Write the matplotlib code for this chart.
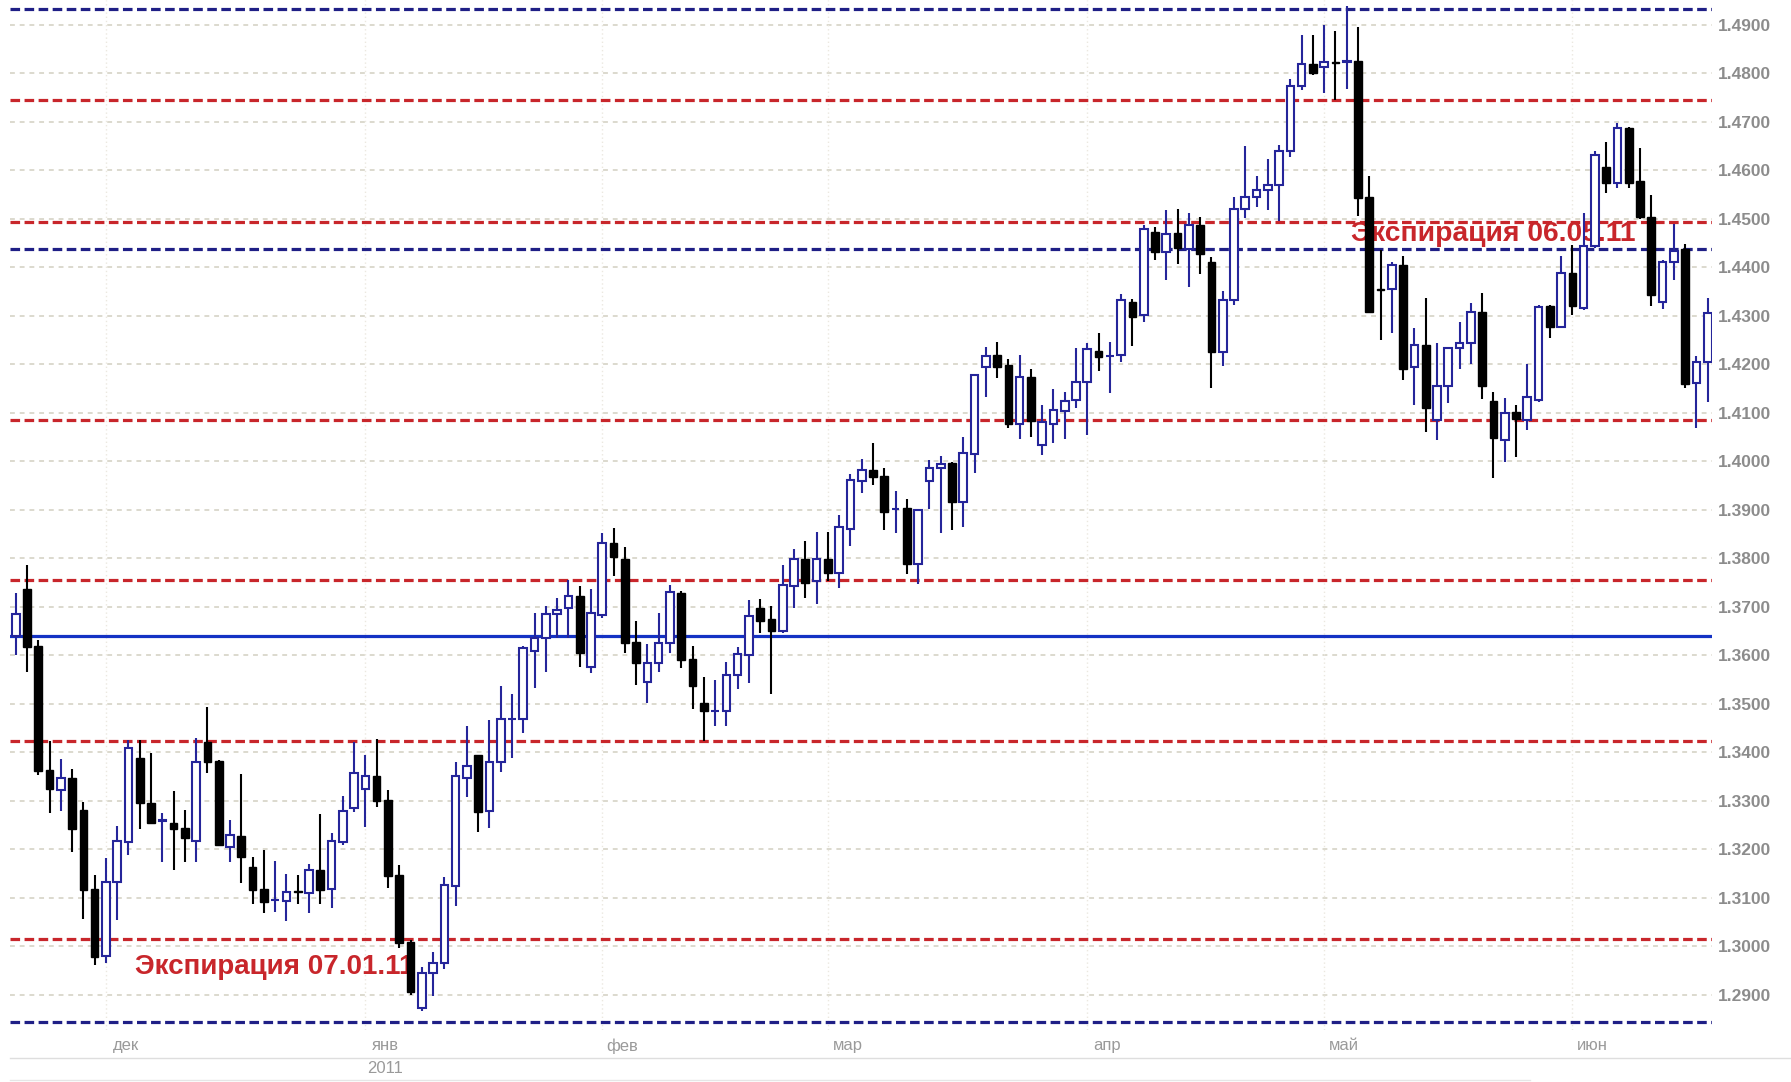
"""plot.py — EUR/USD daily candles, Nov 2010 - Jun 2011, with expiry levels"""
import matplotlib
matplotlib.use("Agg")
import matplotlib.pyplot as plt
from matplotlib.lines import Line2D
import numpy as np

# daily candles
opens = [1.3640, 1.3736, 1.3619, 1.3363, 1.3322, 1.3347, 1.3281, 1.3118, 1.2980, 1.3133,
         1.3215, 1.3389, 1.3296, 1.3259, 1.3255, 1.3243, 1.3217, 1.3420, 1.3382, 1.3205,
         1.3227, 1.3164, 1.3118, 1.3095, 1.3093, 1.3113, 1.3110, 1.3158, 1.3117, 1.3215,
         1.3284, 1.3325, 1.3351, 1.3301, 1.3147, 1.3009, 1.2872, 1.2944, 1.2965, 1.3124,
         1.3346, 1.3394, 1.3279, 1.3380, 1.3468, 1.3468, 1.3609, 1.3635, 1.3684, 1.3697,
         1.3723, 1.3576, 1.3683, 1.3832, 1.3798, 1.3628, 1.3545, 1.3583, 1.3626, 1.3728,
         1.3593, 1.3502, 1.3484, 1.3484, 1.3559, 1.3601, 1.3698, 1.3674, 1.3650, 1.3743,
         1.3798, 1.3752, 1.3798, 1.3770, 1.3860, 1.3960, 1.3982, 1.3969, 1.3901, 1.3903,
         1.3788, 1.3960, 1.3985, 1.3996, 1.3915, 1.4015, 1.4195, 1.4219, 1.4199, 1.4077,
         1.4174, 1.4033, 1.4077, 1.4104, 1.4126, 1.4164, 1.4227, 1.4216, 1.4219, 1.4329,
         1.4302, 1.4473, 1.4432, 1.4470, 1.4437, 1.4487, 1.4411, 1.4226, 1.4332, 1.4519,
         1.4545, 1.4560, 1.4569, 1.4640, 1.4774, 1.4819, 1.4812, 1.4823, 1.4824, 1.4825,
         1.4545, 1.4355, 1.4356, 1.4404, 1.4195, 1.4240, 1.4084, 1.4154, 1.4233, 1.4243,
         1.4307, 1.4124, 1.4044, 1.4102, 1.4084, 1.4126, 1.4320, 1.4277, 1.4389, 1.4315,
         1.4444, 1.4607, 1.4573, 1.4686, 1.4578, 1.4504, 1.4329, 1.4411, 1.4437, 1.4161,
         1.4205]
highs = [1.3728, 1.3786, 1.3631, 1.3424, 1.3385, 1.3365, 1.3298, 1.3147, 1.3181, 1.3248,
         1.3425, 1.3425, 1.3398, 1.3275, 1.3319, 1.3281, 1.3430, 1.3494, 1.3384, 1.3260,
         1.3356, 1.3184, 1.3198, 1.3176, 1.3148, 1.3147, 1.3169, 1.3273, 1.3234, 1.3310,
         1.3422, 1.3394, 1.3427, 1.3322, 1.3167, 1.3013, 1.2958, 1.2989, 1.3143, 1.3380,
         1.3453, 1.3394, 1.3466, 1.3536, 1.3520, 1.3619, 1.3686, 1.3701, 1.3717, 1.3755,
         1.3743, 1.3736, 1.3851, 1.3862, 1.3824, 1.3671, 1.3623, 1.3686, 1.3745, 1.3733,
         1.3619, 1.3556, 1.3549, 1.3585, 1.3616, 1.3714, 1.3715, 1.3701, 1.3786, 1.3818,
         1.3836, 1.3853, 1.3853, 1.3889, 1.3974, 1.4004, 1.4037, 1.3985, 1.3939, 1.3923,
         1.3901, 1.4002, 1.4011, 1.3999, 1.4049, 1.4180, 1.4236, 1.4245, 1.4210, 1.4219,
         1.4191, 1.4116, 1.4148, 1.4143, 1.4233, 1.4243, 1.4265, 1.4245, 1.4345, 1.4334,
         1.4487, 1.4482, 1.4518, 1.4519, 1.4511, 1.4504, 1.4420, 1.4350, 1.4545, 1.4650,
         1.4587, 1.4624, 1.4652, 1.4789, 1.4879, 1.4879, 1.4899, 1.4888, 1.4939, 1.4896,
         1.4587, 1.4435, 1.4411, 1.4423, 1.4274, 1.4336, 1.4243, 1.4236, 1.4286, 1.4326,
         1.4346, 1.4143, 1.4130, 1.4116, 1.4200, 1.4322, 1.4322, 1.4423, 1.4446, 1.4511,
         1.4640, 1.4659, 1.4697, 1.4690, 1.4645, 1.4549, 1.4415, 1.4489, 1.4448, 1.4217,
         1.4336]
lows = [1.3600, 1.3566, 1.3353, 1.3274, 1.3279, 1.3195, 1.3057, 1.2961, 1.2965, 1.3054,
        1.3188, 1.3241, 1.3253, 1.3174, 1.3158, 1.3174, 1.3174, 1.3358, 1.3207, 1.3174,
        1.3130, 1.3088, 1.3068, 1.3071, 1.3051, 1.3088, 1.3068, 1.3088, 1.3078, 1.3209,
        1.3277, 1.3245, 1.3288, 1.3121, 1.2996, 1.2899, 1.2867, 1.2897, 1.2954, 1.3082,
        1.3308, 1.3236, 1.3243, 1.3360, 1.3387, 1.3440, 1.3532, 1.3566, 1.3635, 1.3635,
        1.3575, 1.3563, 1.3676, 1.3763, 1.3604, 1.3539, 1.3501, 1.3566, 1.3604, 1.3573,
        1.3490, 1.3424, 1.3454, 1.3454, 1.3530, 1.3542, 1.3645, 1.3521, 1.3645, 1.3697,
        1.3717, 1.3706, 1.3752, 1.3738, 1.3825, 1.3934, 1.3951, 1.3858, 1.3851, 1.3767,
        1.3747, 1.3901, 1.3851, 1.3858, 1.3864, 1.3975, 1.4133, 1.4171, 1.4068, 1.4045,
        1.4049, 1.4013, 1.4037, 1.4045, 1.4109, 1.4054, 1.4185, 1.4141, 1.4205, 1.4238,
        1.4286, 1.4415, 1.4374, 1.4407, 1.4360, 1.4386, 1.4150, 1.4196, 1.4322, 1.4501,
        1.4525, 1.4518, 1.4496, 1.4628, 1.4765, 1.4796, 1.4760, 1.4745, 1.4767, 1.4505,
        1.4305, 1.4250, 1.4264, 1.4167, 1.4116, 1.4061, 1.4044, 1.4119, 1.4191, 1.4200,
        1.4128, 1.3965, 1.3999, 1.4009, 1.4064, 1.4123, 1.4253, 1.4276, 1.4301, 1.4312,
        1.4439, 1.4552, 1.4563, 1.4563, 1.4500, 1.4319, 1.4313, 1.4374, 1.4150, 1.4068,
        1.4123]
closes = [1.3685, 1.3616, 1.3362, 1.3325, 1.3346, 1.3241, 1.3116, 1.2978, 1.3133, 1.3217,
          1.3408, 1.3296, 1.3253, 1.3259, 1.3241, 1.3224, 1.3380, 1.3379, 1.3209, 1.3229,
          1.3183, 1.3116, 1.3092, 1.3095, 1.3112, 1.3111, 1.3158, 1.3116, 1.3217, 1.3279,
          1.3358, 1.3351, 1.3299, 1.3145, 1.3006, 1.2906, 1.2944, 1.2966, 1.3126, 1.3351,
          1.3372, 1.3277, 1.3380, 1.3468, 1.3468, 1.3614, 1.3635, 1.3684, 1.3693, 1.3723,
          1.3604, 1.3688, 1.3832, 1.3802, 1.3626, 1.3583, 1.3583, 1.3626, 1.3731, 1.3591,
          1.3536, 1.3484, 1.3484, 1.3559, 1.3602, 1.3681, 1.3671, 1.3650, 1.3745, 1.3798,
          1.3748, 1.3798, 1.3770, 1.3864, 1.3961, 1.3982, 1.3968, 1.3896, 1.3901, 1.3788,
          1.3899, 1.3985, 1.3994, 1.3915, 1.4016, 1.4178, 1.4216, 1.4194, 1.4077, 1.4173,
          1.4082, 1.4080, 1.4106, 1.4125, 1.4164, 1.4231, 1.4214, 1.4216, 1.4332, 1.4298,
          1.4478, 1.4432, 1.4468, 1.4439, 1.4487, 1.4427, 1.4226, 1.4332, 1.4519, 1.4544,
          1.4560, 1.4569, 1.4640, 1.4774, 1.4819, 1.4801, 1.4824, 1.4821, 1.4824, 1.4542,
          1.4308, 1.4353, 1.4404, 1.4191, 1.4240, 1.4109, 1.4154, 1.4233, 1.4243, 1.4307,
          1.4155, 1.4047, 1.4100, 1.4086, 1.4132, 1.4317, 1.4277, 1.4389, 1.4319, 1.4444,
          1.4631, 1.4574, 1.4686, 1.4574, 1.4503, 1.4343, 1.4411, 1.4434, 1.4159, 1.4205,
          1.4306]

red_levels = [1.4744, 1.4494, 1.4084, 1.3754, 1.3424, 1.3015]
blue_dash_levels = [1.4932, 1.4438, 1.2844]
blue_solid_level = 1.3640

month_names = ["дек", "янв", "фев", "мар", "апр", "май", "июн"]
month_start = [9, 32, 53, 73, 96, 117, 139]   # candle index of 1st trading day
year_label = "2011"

notes = ["Экспирация 07.01.11", "Экспирация 06.05.11"]

RED = "#c8262b"
NAVY = "#1f1f86"
BLUE = "#1432c4"
CANDLE_BLUE = "#25259a"
GRID = "#dcd9ce"

W, H = 1791, 1082
fig = plt.figure(figsize=(W / 100, H / 100), dpi=100)
ax = fig.add_axes([10 / W, 1 - 1030 / H, 1702 / W, 1030 / H])
ax.set_xlim(-0.505, 150.38)
ax.set_ylim(1.28272, 1.49509)
for s in ax.spines.values():
    s.set_visible(False)

# grid
yt = np.round(np.arange(1.29, 1.4901, 0.01), 2)
for v in yt:
    ax.axhline(v, color=GRID, lw=1.4, dashes=(2.5, 2.5), zorder=0)
for m in month_start:
    ax.axvline(m - 1, color="#ebe8e0", lw=1.0, dashes=(1, 2), zorder=0)

# level lines
for v in red_levels:
    ax.axhline(v, color=RED, lw=2.3, dashes=(3, 1.4), zorder=1)
for v in blue_dash_levels:
    ax.axhline(v, color=NAVY, lw=2.3, dashes=(3, 1.4), zorder=1)
ax.axhline(blue_solid_level, color=BLUE, lw=2.3, zorder=1)

# annotations (under the candles)
ax.text(10.55, 1.2957, notes[0], color=RED, fontsize=20, fontweight="bold",
        family=["Liberation Sans", "DejaVu Sans"], va="center", ha="left", zorder=2)
ax.text(118.4, 1.4468, notes[1], color=RED, fontsize=20.3, fontweight="bold",
        family=["Liberation Sans", "DejaVu Sans"], va="center", ha="left", zorder=2)

# candles
o, h, l, c = map(np.array, (opens, highs, lows, closes))
x = np.arange(len(o))
up = c >= o
ax.vlines(x[up], l[up], h[up], color=CANDLE_BLUE, lw=1.5, zorder=3)
ax.vlines(x[~up], l[~up], h[~up], color="black", lw=1.5, zorder=3)
bw = 0.68
ax.bar(x[up], np.maximum(c[up] - o[up], 0.00005), bottom=o[up], width=bw,
       facecolor="white", edgecolor=CANDLE_BLUE, lw=1.5, zorder=4)
ax.bar(x[~up], o[~up] - c[~up], bottom=c[~up], width=bw,
       facecolor="black", edgecolor="black", lw=1.0, zorder=4)

# axes labels
ax.yaxis.tick_right()
ax.set_yticks(yt)
ax.set_yticklabels([f"{v:.4f}" for v in yt], color="#8c8c8c", fontsize=12.5,
                   fontweight="bold", family=["Liberation Sans", "DejaVu Sans"])
ax.tick_params(axis="y", length=0, pad=4)

ax.set_xticks([m + 0.75 for m in month_start])
ax.set_xticklabels(month_names, color="#9a9a9a", fontsize=12,
                   family=["Liberation Sans Narrow", "Liberation Sans", "DejaVu Sans"])
ax.tick_params(axis="x", length=0, pad=6)
ax.text(month_start[1] + 0.75, -0.037, year_label, transform=ax.get_xaxis_transform(),
        color="#9a9a9a", fontsize=12, ha="center", va="center",
        family=["Liberation Sans Narrow", "Liberation Sans", "DejaVu Sans"])

fig.add_artist(Line2D([10 / W, 1], [1 - 1058 / H] * 2, color="#dedede", lw=1.0))
fig.add_artist(Line2D([10 / W, 1530 / W], [1 - 1080 / H] * 2, color="#e6e6e6", lw=1.0))

fig.savefig("out.png", dpi=100, facecolor="white")
